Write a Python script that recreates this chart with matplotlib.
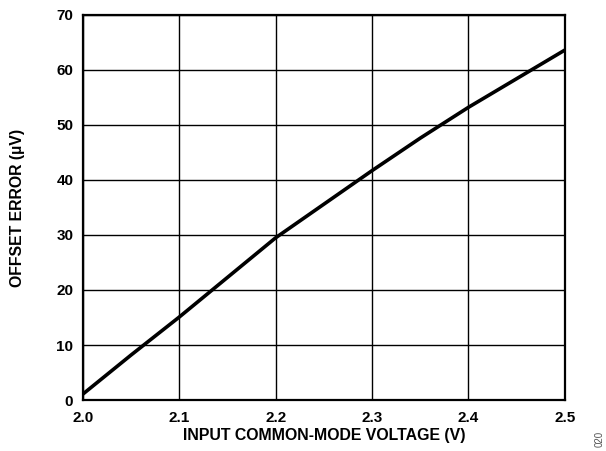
import matplotlib
matplotlib.use("Agg")
import matplotlib.pyplot as plt

plt.rcParams['font.family'] = ['Liberation Sans', 'DejaVu Sans']

# offset error vs input common-mode voltage
vcm = [2.0, 2.05, 2.1, 2.15, 2.2, 2.25, 2.3, 2.35, 2.4, 2.45, 2.5]
offset_uv = [1.1, 8.2, 15.1, 22.3, 29.5, 35.6, 41.7, 47.6, 53.2, 58.4, 63.6]

xticks = [2.0, 2.1, 2.2, 2.3, 2.4, 2.5]
yticks = [0, 10, 20, 30, 40, 50, 60, 70]

fig = plt.figure(figsize=(6.06, 4.51), dpi=100)
ax = fig.add_axes([0.137, 0.113, 0.795, 0.854])

ax.plot(vcm, offset_uv, color='black', linewidth=2.6, solid_capstyle='butt', zorder=3)

ax.set_xlim(2.0, 2.5)
ax.set_ylim(0, 70)
ax.set_xticks(xticks)
ax.set_yticks(yticks)
ax.set_xticklabels(["%.1f" % v for v in xticks], fontsize=11, fontweight='bold')
ax.set_yticklabels([str(v) for v in yticks], fontsize=11, fontweight='bold')
ax.tick_params(axis='x', length=0, pad=8)
ax.tick_params(axis='y', length=0, pad=7)

ax.grid(True, color='black', linewidth=1.0)
for s in ax.spines.values():
    s.set_linewidth(1.6)
    s.set_color('black')

ax.set_xlabel("INPUT COMMON-MODE VOLTAGE (V)", fontsize=11.4, fontweight='bold')
ax.set_ylabel("OFFSET ERROR (µV)", fontsize=11.4, fontweight='bold')
ax.xaxis.set_label_coords(0.5, -0.072)
ax.yaxis.set_label_coords(-0.121, 0.5)

fig.text(0.99, 0.009, "020", rotation=90, fontsize=7, color='#555555', ha='center', va='bottom')

fig.savefig("out.png", dpi=100)
